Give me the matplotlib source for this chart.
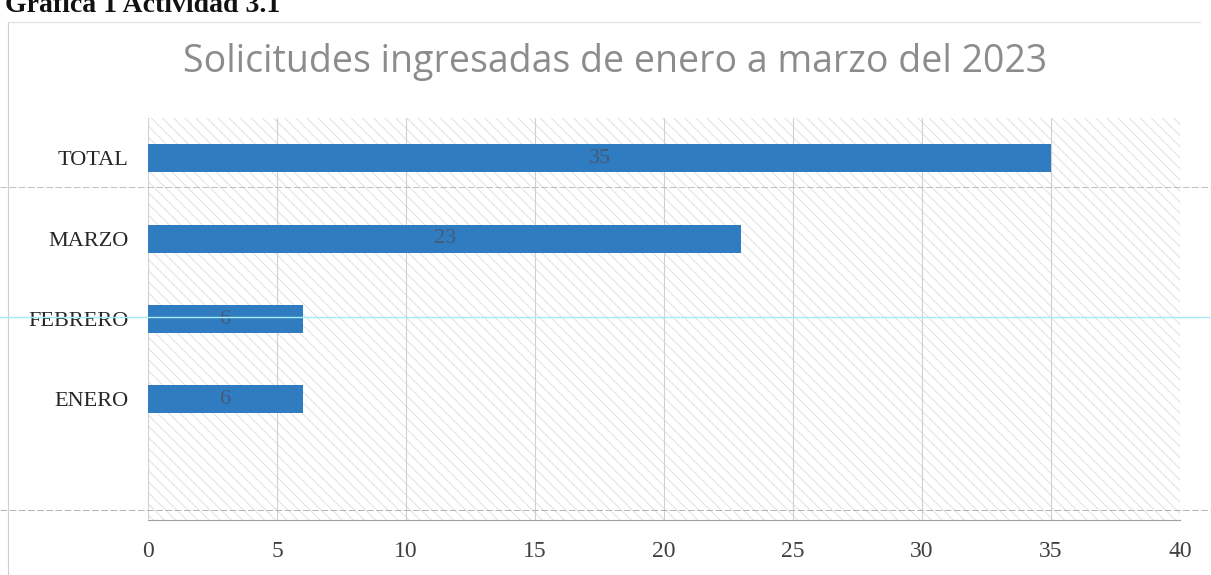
import matplotlib.pyplot as plt
from matplotlib.patches import Rectangle
from matplotlib.lines import Line2D

# data
categories = ['ENERO', 'FEBRERO', 'MARZO', 'TOTAL']
values = [6, 6, 23, 35]
x_ticks = [0, 5, 10, 15, 20, 25, 30, 35, 40]

bar_color = '#2f7dc0'
serif = ['Liberation Serif', 'DejaVu Serif']

plt.rcParams['hatch.linewidth'] = 0.5
plt.rcParams['hatch.color'] = '#d4d5dc'

fig = plt.figure(figsize=(12.11, 5.75), dpi=100)
ax = fig.add_axes([148 / 1211, 1 - 520 / 575, 1032 / 1211, 402 / 575])

# hatched plot background
ax.add_patch(Rectangle((0, 0), 1, 1, transform=ax.transAxes, facecolor='white',
                       edgecolor='#d4d5dc', hatch='\\\\\\', linewidth=0, zorder=0))

pos = list(range(len(categories)))
ax.barh(pos, values, height=0.35, color=bar_color, zorder=3)
for p, v in zip(pos, values):
    ax.text(v / 2, p, str(v), ha='center', va='center', fontsize=16,
            family=serif, color='#45597a', zorder=4)

ax.set_xlim(0, 40)
ax.set_ylim(-1.5, 3.5)
ax.set_xticks(x_ticks)
ax.set_yticks(pos)
ax.set_yticklabels(categories)
ax.grid(axis='x', color='#d0d0d0', linewidth=0.8, zorder=1)
ax.set_axisbelow(True)
for s in ['top', 'right', 'left']:
    ax.spines[s].set_visible(False)
ax.spines['bottom'].set_color('#a0a0a0')
ax.spines['bottom'].set_linewidth(0.8)
ax.tick_params(length=0)
ax.tick_params(axis='x', pad=15)
ax.tick_params(axis='y', pad=14)
for lab in ax.get_xticklabels():
    lab.set_fontfamily(serif)
    lab.set_fontsize(17)
    lab.set_color('#404040')
for lab in ax.get_yticklabels():
    lab.set_fontfamily(serif)
    lab.set_fontsize(16)
    lab.set_color('#262626')

fig.text(615 / 1211, 1 - 62 / 575, 'Solicitudes ingresadas de enero a marzo del 2023',
         ha='center', va='center', fontsize=27, color='#8c8c8c', family=['Open Sans', 'DejaVu Sans'])

# document heading, partly cut off by the scan
fig.text(5 / 1211, 1 - 12 / 575, 'Gráfica 1 Actividad 3.1', ha='left', va='baseline',
         fontsize=20, fontweight='bold', family=serif, color='#111111')

# chart frame and scan lines
fig.add_artist(Line2D([8 / 1211, 8 / 1211], [0, 1 - 22 / 575], color='#cfcfcf', linewidth=0.8))
fig.add_artist(Line2D([8 / 1211, 1200 / 1211], [1 - 22 / 575, 1 - 22 / 575], color='#e0e0e0', linewidth=0.8))
fig.add_artist(Line2D([0, 1], [1 - 187 / 575, 1 - 187 / 575], color='#b4b4b4', linewidth=0.6, linestyle=(0, (8, 3))))
fig.add_artist(Line2D([0, 1], [1 - 510 / 575, 1 - 510 / 575], color='#a8a8a8', linewidth=0.6, linestyle=(0, (8, 3))))
fig.add_artist(Line2D([0, 1], [1 - 317 / 575, 1 - 317 / 575], color='#a6ecf5', linewidth=1.0))

fig.savefig('out.png', dpi=100)
